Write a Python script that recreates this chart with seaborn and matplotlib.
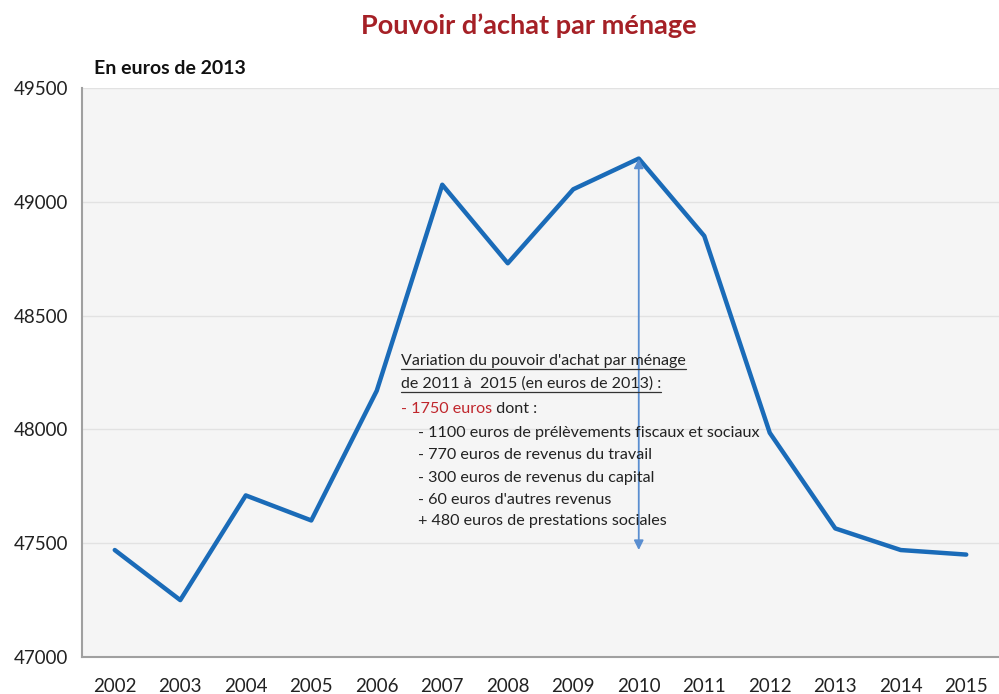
import matplotlib
matplotlib.use('Agg')
import matplotlib.pyplot as plt
import seaborn as sns
import pandas as pd

years = [2002, 2003, 2004, 2005, 2006, 2007, 2008, 2009, 2010, 2011, 2012, 2013, 2014, 2015]
pouvoir = [47470, 47250, 47710, 47600, 48170, 49075, 48730, 49055, 49190, 48850, 47985, 47565, 47470, 47450]
y_ticks = [47000, 47500, 48000, 48500, 49000, 49500]

note_title = ["Variation du pouvoir d'achat par ménage", "de 2011 à  2015 (en euros de 2013) :"]
note_red = "- 1750 euros"
note_rest = " dont :"
note_items = ["- 1100 euros de prélèvements fiscaux et sociaux",
              "- 770 euros de revenus du travail",
              "- 300 euros de revenus du capital",
              "- 60 euros d'autres revenus",
              "+ 480 euros de prestations sociales"]

df = pd.DataFrame({'annee': years, 'valeur': pouvoir})

sns.set_style('white')
plt.rcParams['font.family'] = ['Lato', 'DejaVu Sans']

fig = plt.figure(figsize=(9.99, 6.94), dpi=100)
ax = fig.add_axes([0.0821, 0.0533, 0.9179, 0.8199])
ax.set_facecolor('#f5f5f5')

sns.lineplot(data=df, x='annee', y='valeur', ax=ax, color='#1a6bb8', linewidth=3.2)

ax.set_xlim(years[0] - 0.5, years[-1] + 0.5)
ax.set_ylim(y_ticks[0], y_ticks[-1])
ax.set_yticks(y_ticks)
ax.set_xticks(years)
ax.set_xticks([y + 0.5 for y in years[:-1]], minor=True)
ax.tick_params(axis='x', which='major', length=0, pad=15, labelsize=13.5, colors='#222222')
ax.tick_params(axis='x', which='minor', length=11, width=1, color='#aaaaaa', direction='out')
ax.tick_params(axis='y', length=0, pad=10, labelsize=13.5, colors='#222222')
ax.grid(axis='y', color='#e2e2e2', linewidth=1)
ax.set_axisbelow(True)
ax.set_xlabel('')
ax.set_ylabel('')
for s in ['top', 'right']:
    ax.spines[s].set_visible(False)
for s in ['left', 'bottom']:
    ax.spines[s].set_color('#a0a0a0')
    ax.spines[s].set_linewidth(1.5)

# double arrow 2010 peak -> 2015 level
ax.annotate('', xy=(2010, pouvoir[8]), xytext=(2010, 47470),
            arrowprops=dict(arrowstyle='<|-|>', color='#5a8ed0', lw=1.3,
                            mutation_scale=14, shrinkA=0, shrinkB=0))

fig.text(0.5295, 0.963, "Pouvoir d\u2019achat par ménage", ha='center', va='center',
         fontsize=19.5, fontweight='bold', color='#a52026')
fig.text(0.094, 0.902, "En euros de 2013", ha='left', va='center',
         fontsize=14, fontweight='bold', color='#111111')

# annotation block
x0 = 401 / 999
ys = [361, 384, 409, 433, 455, 478, 500, 521]
fig.canvas.draw()
r = fig.canvas.get_renderer()
for i, line in enumerate(note_title):
    t = fig.text(x0, 1 - ys[i] / 694, line, ha='left', va='center', fontsize=11.5, color='#222222')
    bb = t.get_window_extent(renderer=r)
    yl = (bb.y0 - 1) / 694
    fig.add_artist(plt.Line2D([bb.x0 / 999, bb.x1 / 999], [yl, yl], color='#333333', lw=0.9))
t = fig.text(x0, 1 - ys[2] / 694, note_red, ha='left', va='center', fontsize=11.6, color='#c0262c')
bb = t.get_window_extent(renderer=r)
fig.text(bb.x1 / 999, 1 - ys[2] / 694, note_rest, ha='left', va='center', fontsize=11.6, color='#222222')
for i, line in enumerate(note_items):
    fig.text(x0 + 17 / 999, 1 - ys[3 + i] / 694, line, ha='left', va='center', fontsize=11.6, color='#222222')

fig.savefig('out.png', dpi=100)
